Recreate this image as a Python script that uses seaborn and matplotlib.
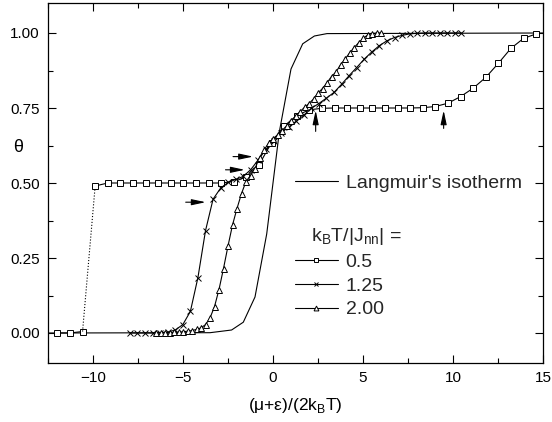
import numpy as np
import pandas as pd
import matplotlib
matplotlib.use("Agg")
import matplotlib.pyplot as plt
import seaborn as sns
from matplotlib.lines import Line2D
from matplotlib.ticker import MultipleLocator, FormatStrFormatter

# ---------------- data ----------------
lang_x = [-12.5, -3.5, -2.3, -1.65, -1.0, -0.35, 0.35, 1.0, 1.65, 2.3, 3.0, 15.0]
lang_y = [0.0, 0.001, 0.01, 0.036, 0.12, 0.33, 0.67, 0.88, 0.964, 0.99, 0.998, 1.0]

sq_x = [-11.98, -11.28, -10.58, -9.88, -9.18, -8.48, -7.78, -7.08, -6.38, -5.68,
        -4.98, -4.28, -3.58, -2.88, -2.18, -1.48, -0.78, -0.08, 0.62, 1.32,
        2.02, 2.72, 3.42, 4.12, 4.82, 5.52, 6.22, 6.92, 7.62, 8.32,
        9.02, 9.72, 10.42, 11.12, 11.82, 12.52, 13.22, 13.92, 14.62]
sq_y = [0.0, 0.0, 0.005, 0.49, 0.5, 0.5, 0.5, 0.5, 0.5, 0.5,
        0.5, 0.5, 0.5, 0.5, 0.505, 0.52, 0.56, 0.635, 0.69, 0.725,
        0.744, 0.749, 0.75, 0.75, 0.75, 0.75, 0.75, 0.75, 0.75, 0.751,
        0.755, 0.766, 0.788, 0.816, 0.852, 0.899, 0.949, 0.982, 0.997]

cr_x = [-7.95, -7.53, -7.11, -6.69, -6.27, -5.85, -5.43, -5.01, -4.59, -4.17,
        -3.75, -3.33, -2.91, -2.49, -2.07, -1.65, -1.23, -0.81, -0.39, 0.03,
        0.45, 0.87, 1.29, 1.71, 2.13, 2.55, 2.97, 3.39, 3.81, 4.23,
        4.65, 5.07, 5.49, 5.91, 6.33, 6.75, 7.17, 7.59, 8.01, 8.43,
        8.85, 9.27, 9.69, 10.11, 10.45]
cr_y = [0.0, 0.0, 0.0, 0.0, 0.001, 0.003, 0.01, 0.028, 0.072, 0.185,
        0.341, 0.446, 0.483, 0.502, 0.512, 0.522, 0.545, 0.578, 0.612, 0.641,
        0.667, 0.687, 0.706, 0.726, 0.749, 0.765, 0.783, 0.802, 0.829, 0.858,
        0.885, 0.913, 0.937, 0.958, 0.974, 0.985, 0.992, 0.997, 0.999, 1.0,
        1.0, 1.0, 1.0, 1.0, 1.0]

tr_x = [-6.5, -6.25, -6.0, -5.75, -5.5, -5.25, -5.0, -4.75, -4.5, -4.25,
        -4.0, -3.75, -3.5, -3.25, -3.0, -2.75, -2.5, -2.25, -2.0, -1.75,
        -1.5, -1.25, -1.0, -0.75, -0.5, -0.25, 0.0, 0.25, 0.5, 0.75,
        1.0, 1.25, 1.5, 1.75, 2.0, 2.25, 2.5, 2.75, 3.0, 3.25,
        3.5, 3.75, 4.0, 4.25, 4.5, 4.75, 5.0, 5.25, 5.5, 5.75, 6.0]
tr_y = [0.0, 0.0, 0.001, 0.001, 0.002, 0.003, 0.004, 0.006, 0.008, 0.012,
        0.017, 0.028, 0.05, 0.088, 0.145, 0.215, 0.29, 0.36, 0.415, 0.465,
        0.505, 0.525, 0.548, 0.585, 0.61, 0.632, 0.648, 0.66, 0.675, 0.69,
        0.706, 0.722, 0.738, 0.752, 0.765, 0.78, 0.8, 0.815, 0.834, 0.855,
        0.87, 0.894, 0.913, 0.933, 0.951, 0.967, 0.982, 0.993, 0.998, 1.0, 1.0]

series_labels = ["0.5", "1.25", "2.00"]
x_ticks = [-10, -5, 0, 5, 10, 15]
y_ticks = [0.00, 0.25, 0.50, 0.75, 1.00]

# arrows: (x_tail, y_tail, x_head, y_head)
arrows = [(-2.22, 0.588, -1.11, 0.588),
          (-2.64, 0.544, -1.57, 0.544),
          (-4.85, 0.436, -3.74, 0.436),
          (2.37, 0.672, 2.37, 0.742),
          (9.48, 0.682, 9.48, 0.742)]

# ---------------- figure ----------------
sns.set_theme(style="ticks")
plt.rcParams["font.family"] = ["Liberation Sans", "DejaVu Sans"]
plt.rcParams["mathtext.fontset"] = "custom"
plt.rcParams["mathtext.rm"] = "Liberation Sans"

fig = plt.figure(figsize=(5.52, 4.22), dpi=100)
ax = fig.add_axes([48/552, 1-363/422, (543-48)/552, (363-3)/422])

lw = 0.8
mew = 0.7
ms = 4.2
# Langmuir
sns.lineplot(x=lang_x, y=lang_y, ax=ax, color="black", lw=lw, sort=False, legend=False)
# 0.5 series: solid low part, dotted jump, solid rest
sns.lineplot(x=sq_x[:3], y=sq_y[:3], ax=ax, color="black", lw=lw, sort=False,
             marker="s", markersize=ms, markerfacecolor="white", markeredgecolor="black",
             markeredgewidth=mew, legend=False)
sns.lineplot(x=sq_x[2:4], y=sq_y[2:4], ax=ax, color="black", lw=lw, sort=False,
             linestyle=":", legend=False)
sns.lineplot(x=sq_x[3:], y=sq_y[3:], ax=ax, color="black", lw=lw, sort=False,
             marker="s", markersize=ms, markerfacecolor="white", markeredgecolor="black",
             markeredgewidth=mew, legend=False)
# 1.25 series
sns.lineplot(x=cr_x, y=cr_y, ax=ax, color="black", lw=lw, sort=False,
             marker="x", markersize=ms, markeredgecolor="black",
             markeredgewidth=mew, legend=False)
# 2.00 series
sns.lineplot(x=tr_x, y=tr_y, ax=ax, color="black", lw=lw, sort=False,
             marker="^", markersize=ms, markerfacecolor="white", markeredgecolor="black",
             markeredgewidth=mew, legend=False)

for (x0, y0, x1, y1) in arrows:
    ax.annotate("", xy=(x1, y1), xytext=(x0, y0),
                arrowprops=dict(arrowstyle="-|>,head_length=0.7,head_width=0.15",
                                color="black", lw=0.8, shrinkA=0, shrinkB=0))

ax.set_xlim(-12.5, 15)
ax.set_ylim(-0.1, 1.1)
ax.set_xticks(x_ticks)
ax.set_yticks(y_ticks)
ax.xaxis.set_minor_locator(MultipleLocator(2.5))
ax.yaxis.set_minor_locator(MultipleLocator(0.125))
ax.yaxis.set_major_formatter(FormatStrFormatter("%.2f"))
ax.tick_params(which="both", direction="in", top=True, right=True, color="black",
               labelsize=11, labelcolor="black", width=0.8)
ax.tick_params(which="major", length=6, pad=6)
ax.tick_params(which="minor", length=3.5)
for s in ax.spines.values():
    s.set_color("black")
    s.set_linewidth(0.9)

ax.set_xlabel("(μ+ε)/(2k$_\\mathregular{B}$T)", fontsize=12.5, color="black", labelpad=8)
ax.set_ylabel("θ", fontsize=13, color="black", rotation=0, ha="center", va="center")
ax.yaxis.set_label_coords((18-48)/495, (363-148)/360)

# legends
h_lang = [Line2D([], [], color="black", lw=lw)]
leg1 = ax.legend(h_lang, ["Langmuir's isotherm"], loc="upper left",
                 bbox_to_anchor=((295-48)/495, (363-174)/360), frameon=False,
                 fontsize=14, handlelength=2.2, handletextpad=0.4, borderpad=0, borderaxespad=0)
ax.add_artist(leg1)
h_ser = [Line2D([], [], color="black", lw=lw, marker="s", markersize=3.5, markerfacecolor="white", markeredgewidth=mew),
         Line2D([], [], color="black", lw=lw, marker="x", markersize=3.5, markeredgewidth=mew),
         Line2D([], [], color="black", lw=lw, marker="^", markersize=3.5, markerfacecolor="white", markeredgewidth=mew)]
leg2 = ax.legend(h_ser, series_labels, loc="upper left",
                 title="   k$_\\mathregular{B}$T/|J$_\\mathregular{nn}$| =",
                 bbox_to_anchor=((295-48)/495, (363-226)/360), frameon=False,
                 fontsize=14, title_fontsize=14, handlelength=2.2, handletextpad=0.4,
                 labelspacing=0.32, borderpad=0, borderaxespad=0)
leg2._legend_box.align = "left"
fig.savefig("out.png", dpi=100)
